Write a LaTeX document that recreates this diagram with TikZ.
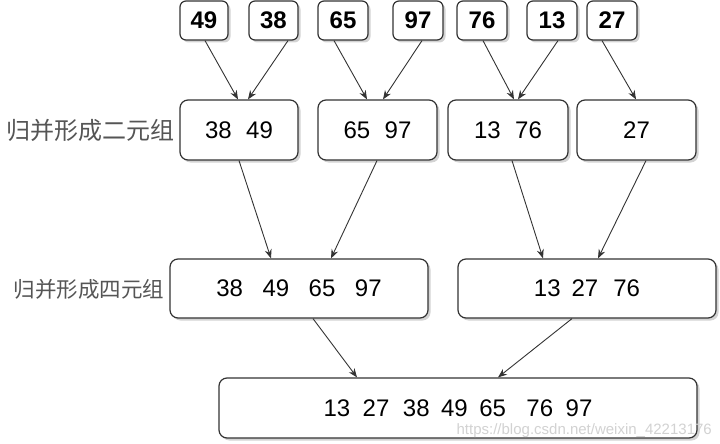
\documentclass[tikz,border=0pt]{standalone}
\usepackage{fontspec}
\setmainfont{Liberation Sans}
\newfontfamily\cjk{Noto Sans CJK SC}
\usetikzlibrary{arrows.meta,shadows}
\definecolor{edge}{HTML}{333333}
\definecolor{lbl}{HTML}{555555}
\tikzset{
  box/.style={draw=edge,line width=1.2pt,rounded corners=8pt,fill=white,inner sep=0pt,
    font=\fontsize{24}{26}\selectfont,
    drop shadow={shadow xshift=2.5pt,shadow yshift=-2.5pt,opacity=0.35,fill=gray}},
  numbox/.style={box,rounded corners=6pt,minimum width=50pt,minimum height=39pt,
    font=\fontsize{24}{26}\selectfont\bfseries},
  arr/.style={draw=edge,line width=0.9pt,-{Stealth[length=9pt,width=7pt]}},
  grp/.style={text=lbl,font=\cjk\fontsize{24}{26}\selectfont,inner sep=0pt}
}
\begin{document}
\begin{tikzpicture}[x=1pt,y=-1pt]
\useasboundingbox (0,0) rectangle (720,444);
% top boxes
\node[numbox,minimum width=48pt] (n49) at (204,20.5) {49};
\node[numbox,minimum width=49pt] (n38) at (273.5,20.5) {38};
\node[numbox] (n65) at (343,20.5) {65};
\node[numbox] (n97) at (418,20.5) {97};
\node[numbox] (n76) at (482,20.5) {76};
\node[numbox] (n13) at (552,20.5) {13};
\node[numbox] (n27) at (612,20.5) {27};
% second row
\node[box,minimum width=118pt,minimum height=60pt] (A) at (239,130) {38\hspace{14.5pt}49};
\node[box,minimum width=119pt,minimum height=60pt] (B) at (377.5,130) {65\hspace{14.5pt}97};
\node[box,minimum width=120pt,minimum height=60pt] (C) at (508,130) {13\hspace{14.5pt}76};
\node[box,minimum width=119pt,minimum height=60pt] (D) at (636.5,130) {27};
% third row
\node[box,minimum width=258pt,minimum height=59pt] (E) at (299,288.5) {38\hspace{19.5pt}49\hspace{19.5pt}65\hspace{19.5pt}97};
\node[box,minimum width=258pt,minimum height=59pt] (F) at (587,288.5) {13\hspace{11pt}27\hspace{15pt}76};
% bottom
\node[box,minimum width=478pt,minimum height=60pt] (G) at (458,408) {13\hspace{12.5pt}27\hspace{13.5pt}38\hspace{11.5pt}49\hspace{11.5pt}65\hspace{20.5pt}76\hspace{12.5pt}97};
% labels
\node[grp] (L1) at (90,130) {归并形成二元组};
\node[grp,font=\cjk\fontsize{21.5}{24}\selectfont] (L2) at (89,289) {归并形成四元组};
% watermark
\node[text=gray!35,font=\fontsize{15}{17}\selectfont,anchor=east,inner sep=0pt] (wm) at (712,431) {https://blog.csdn.net/weixin\_42213176};
% arrows
\draw[arr] ([xshift=1pt]n49.south) -- ([xshift=-1pt]A.north);
\draw[arr] ([xshift=14.5pt]n38.south) -- ([xshift=9pt]A.north);
\draw[arr] ([xshift=-9pt]n65.south) -- ([xshift=-10.5pt]B.north);
\draw[arr] ([xshift=4pt]n97.south) -- ([xshift=5.5pt]B.north);
\draw[arr] ([xshift=1pt]n76.south) -- ([xshift=6pt]C.north);
\draw[arr] ([xshift=6pt]n13.south) -- ([xshift=10pt]C.north);
\draw[arr] ([xshift=-10pt]n27.south) -- ([xshift=-0.5pt]D.north);
\draw[arr] (A.south) -- ([xshift=-28pt]E.north);
\draw[arr] ([xshift=-0.5pt]B.south) -- ([xshift=32pt]E.north);
\draw[arr] ([xshift=4pt]C.south) -- ([xshift=-44pt]F.north);
\draw[arr] ([xshift=9.5pt]D.south) -- ([xshift=11pt]F.north);
\draw[arr] ([xshift=14pt]E.south) -- ([xshift=-101pt]G.north);
\draw[arr] ([xshift=-15pt]F.south) -- ([xshift=40pt]G.north);
\end{tikzpicture}
\end{document}
